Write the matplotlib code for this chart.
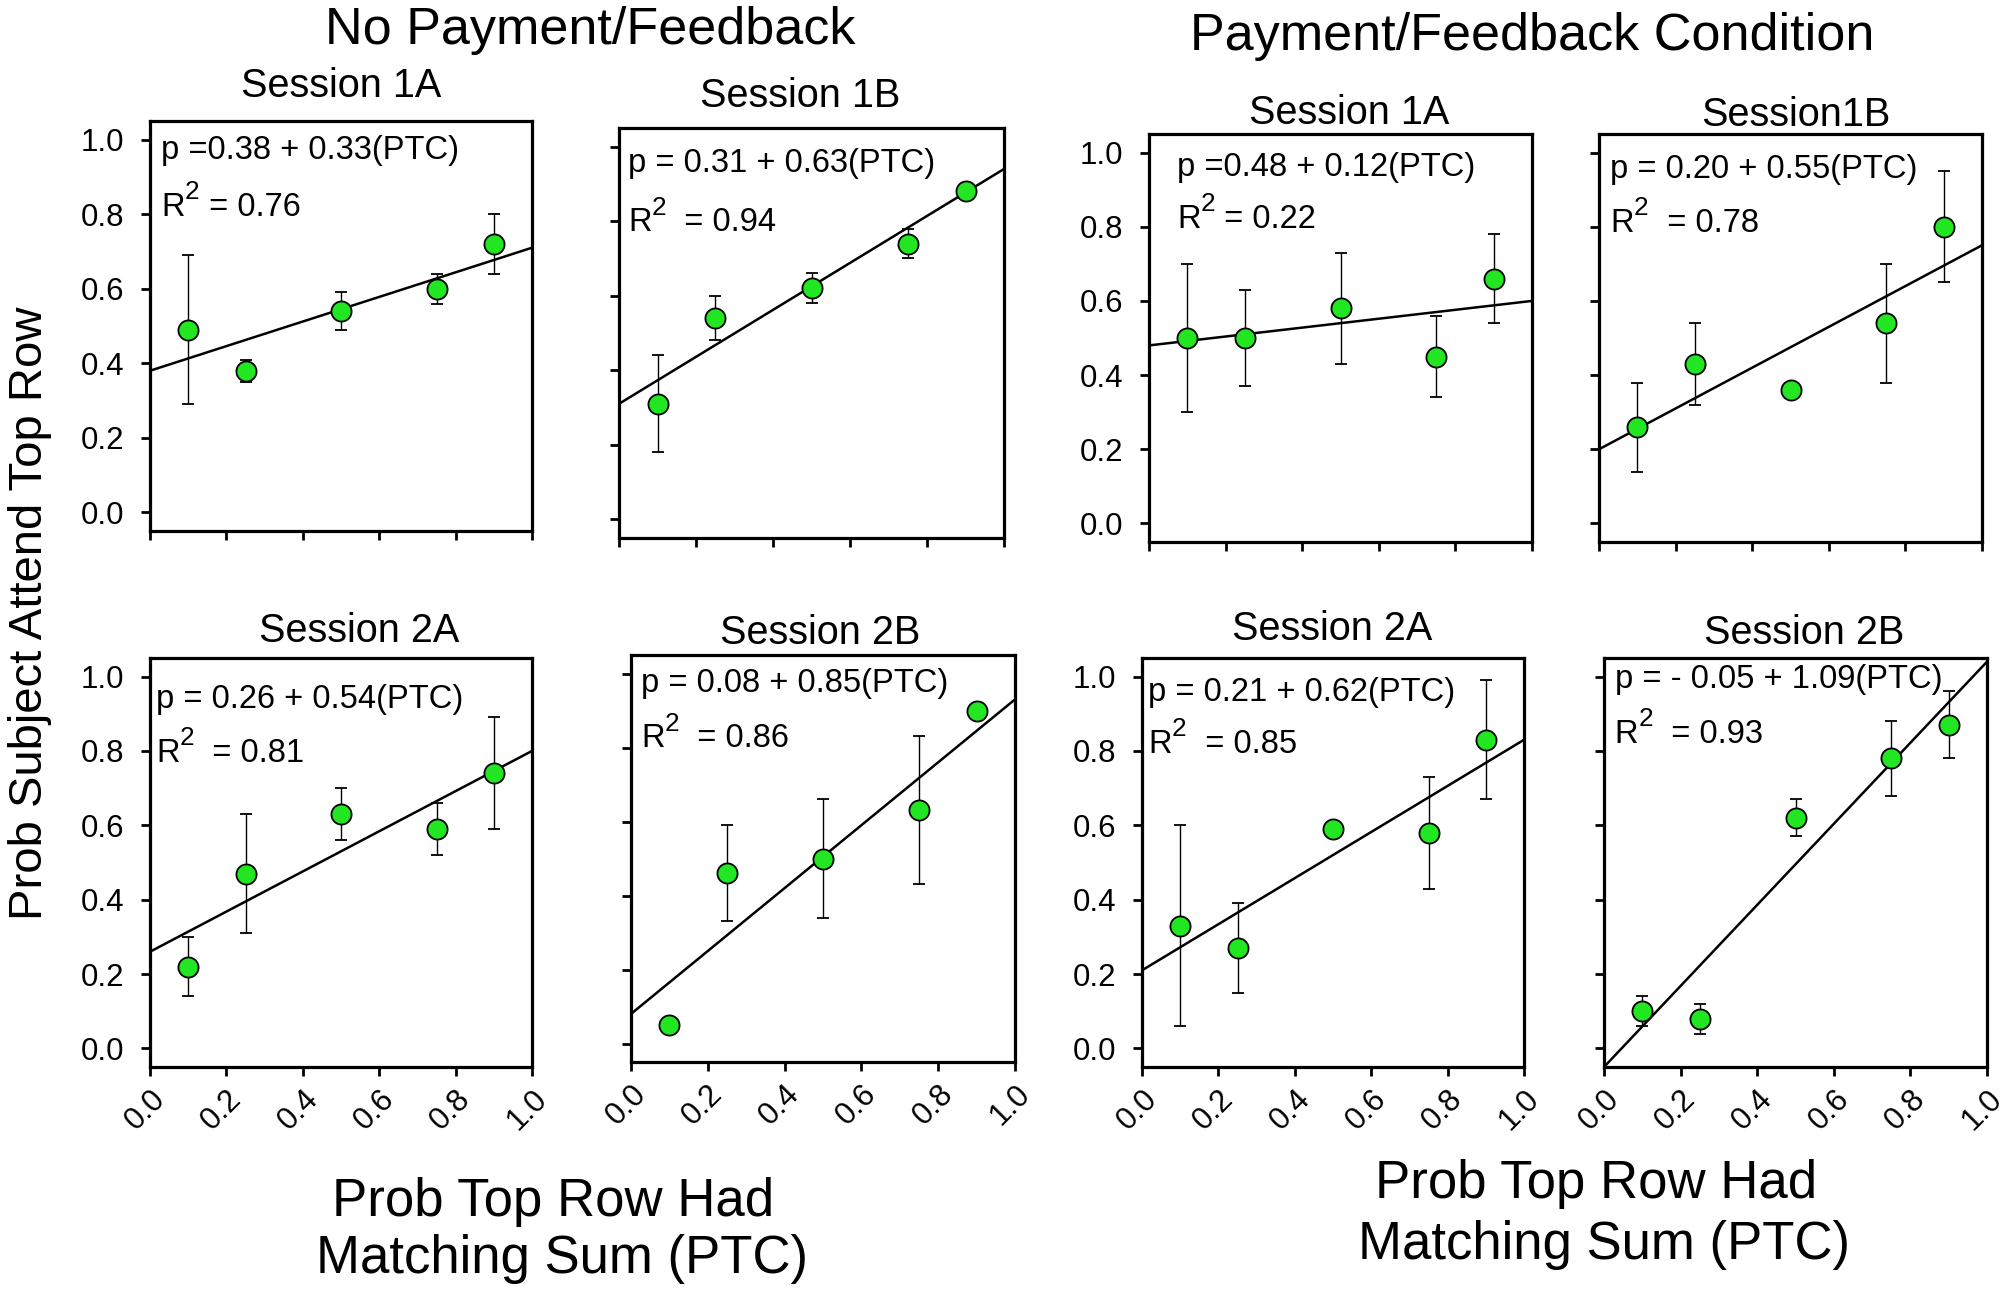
import matplotlib
matplotlib.use("Agg")
import matplotlib.pyplot as plt
from matplotlib.ticker import FormatStrFormatter

plt.rcParams["font.family"] = ["Liberation Sans", "DejaVu Sans"]

W, H = 2000, 1295

PTC = [0.10, 0.25, 0.50, 0.75, 0.90]
TICKS = [0.0, 0.2, 0.4, 0.6, 0.8, 1.0]

# no payment / feedback
NOFB_1A = [0.49, 0.38, 0.54, 0.60, 0.72]
NOFB_1A_ERR = [0.20, 0.03, 0.05, 0.04, 0.08]
NOFB_1B = [0.31, 0.54, 0.62, 0.74, 0.88]
NOFB_1B_ERR = [0.13, 0.06, 0.04, 0.04, 0.0]
NOFB_2A = [0.22, 0.47, 0.63, 0.59, 0.74]
NOFB_2A_ERR = [0.08, 0.16, 0.07, 0.07, 0.15]
NOFB_2B = [0.05, 0.46, 0.50, 0.63, 0.90]
NOFB_2B_ERR = [0.0, 0.13, 0.16, 0.20, 0.0]

# payment / feedback
FB_1A = [0.50, 0.50, 0.58, 0.45, 0.66]
FB_1A_ERR = [0.20, 0.13, 0.15, 0.11, 0.12]
FB_1B = [0.26, 0.43, 0.36, 0.54, 0.80]
FB_1B_ERR = [0.12, 0.11, 0.0, 0.16, 0.15]
FB_2A = [0.33, 0.27, 0.59, 0.58, 0.83]
FB_2A_ERR = [0.27, 0.12, 0.0, 0.15, 0.16]
FB_2B = [0.10, 0.08, 0.62, 0.78, 0.87]
FB_2B_ERR = [0.04, 0.04, 0.05, 0.10, 0.09]

# fitted lines (intercept, slope) and R^2
FITS = {
    "nofb_1a": (0.38, 0.33, 0.76),
    "nofb_1b": (0.31, 0.63, 0.94),
    "nofb_2a": (0.26, 0.54, 0.81),
    "nofb_2b": (0.08, 0.85, 0.86),
    "fb_1a": (0.48, 0.12, 0.22),
    "fb_1b": (0.20, 0.55, 0.78),
    "fb_2a": (0.21, 0.62, 0.85),
    "fb_2b": (-0.05, 1.09, 0.93),
}

EQ_TEXT = {
    "nofb_1a": "p =0.38 + 0.33(PTC)",
    "nofb_1b": "p = 0.31 + 0.63(PTC)",
    "nofb_2a": "p = 0.26 + 0.54(PTC)",
    "nofb_2b": "p = 0.08 + 0.85(PTC)",
    "fb_1a": "p =0.48 + 0.12(PTC)",
    "fb_1b": "p = 0.20 + 0.55(PTC)",
    "fb_2a": "p = 0.21 + 0.62(PTC)",
    "fb_2b": "p = - 0.05 + 1.09(PTC)",
}
R2_GAP = {"nofb_1a": " ", "fb_1a": " "}

GREEN = "#22e622"
EQ_SIZE = 23.5

# key, values, errors, title, box in pixels (left, top, right, bottom),
# equation position (axes fraction x, y of p-line, y of R2-line), title pos
PANELS = [
    ("nofb_1a", NOFB_1A, NOFB_1A_ERR, "Session 1A", (150, 121, 532, 531), (0.03, 0.908, 0.769), (341, 97)),
    ("nofb_1b", NOFB_1B, NOFB_1B_ERR, "Session 1B", (619, 128, 1004, 538), (0.024, 0.893, 0.748), (800, 107)),
    ("nofb_2a", NOFB_2A, NOFB_2A_ERR, "Session 2A", (150, 658, 532, 1067), (0.016, 0.877, 0.746), (359, 642)),
    ("nofb_2b", NOFB_2B, NOFB_2B_ERR, "Session 2B", (631, 655, 1015, 1062), (0.026, 0.91, 0.773), (820, 644)),
    ("fb_1a", FB_1A, FB_1A_ERR, "Session 1A", (1149, 134, 1532, 542), (0.074, 0.897, 0.77), (1349, 124)),
    ("fb_1b", FB_1B, FB_1B_ERR, "Session1B", (1599, 134, 1982, 542), (0.03, 0.892, 0.76), (1796, 126)),
    ("fb_2a", FB_2A, FB_2A_ERR, "Session 2A", (1142, 658, 1524, 1067), (0.017, 0.896, 0.768), (1332, 640)),
    ("fb_2b", FB_2B, FB_2B_ERR, "Session 2B", (1604, 658, 1987, 1067), (0.028, 0.927, 0.792), (1804, 644)),
]
SHOW_YLABELS = {"nofb_1a", "nofb_2a", "fb_1a", "fb_2a"}
SHOW_XLABELS = {"nofb_2a", "nofb_2b", "fb_2a", "fb_2b"}


def fx(px):
    return px / W


def fy(py):
    return 1 - py / H


def draw_panel(fig, key, values, errors, title, box, eqpos, titlepos):
    left, top, right, bottom = box
    ax = fig.add_axes([fx(left), fy(bottom), (right - left) / W, (bottom - top) / H])
    ax.set_xlim(0, 1)
    ax.set_ylim(-0.05, 1.05)

    b0, b1, r2 = FITS[key]
    ax.plot([0, 1], [b0, b0 + b1], color="black", lw=1.8, zorder=2)
    ax.errorbar(PTC, values, yerr=errors, fmt="none", ecolor="black",
                elinewidth=1.0, capsize=4.5, capthick=1.3, zorder=3)
    ax.plot(PTC, values, "o", ms=14.5, mfc=GREEN, mec="black", mew=1.3, zorder=4)

    ax.set_xticks(TICKS)
    ax.set_yticks(TICKS)
    ax.xaxis.set_major_formatter(FormatStrFormatter("%.1f"))
    ax.yaxis.set_major_formatter(FormatStrFormatter("%.1f"))
    ax.tick_params(direction="out", length=6.5, width=2.0, labelsize=22.5, pad=12,
                   top=False, right=False)
    ax.tick_params(axis="x", pad=6)
    if key not in SHOW_YLABELS:
        ax.tick_params(labelleft=False)
    if key in SHOW_XLABELS:
        for lab in ax.get_xticklabels():
            lab.set_rotation(45)
            lab.set_ha("right")
            lab.set_va("top")
            lab.set_rotation_mode("anchor")
    else:
        ax.tick_params(labelbottom=False)
    for sp in ax.spines.values():
        sp.set_linewidth(2.3)

    ex, ey1, ey2 = eqpos
    ax.text(ex, ey1, EQ_TEXT[key], transform=ax.transAxes, fontsize=EQ_SIZE,
            va="baseline", ha="left")
    # R^2 line: R, raised 2, then the value
    r_txt = ax.text(ex, ey2, "R", transform=ax.transAxes, fontsize=EQ_SIZE,
                    va="baseline", ha="left")
    sup = ax.annotate("2", xy=(1.0, 0.6), xycoords=r_txt, fontsize=EQ_SIZE * 0.8,
                      ha="left", va="bottom")
    gap = R2_GAP.get(key, "  ")
    ax.annotate(gap + f"= {r2:.2f}", xy=(1.0, 0.0), xycoords=(sup, r_txt),
                fontsize=EQ_SIZE, ha="left", va="bottom")

    fig.text(fx(titlepos[0]), fy(titlepos[1]), title, fontsize=28.5,
             ha="center", va="baseline")
    return ax


fig = plt.figure(figsize=(W / 100, H / 100), dpi=100)

for panel in PANELS:
    draw_panel(fig, *panel)

fig.text(fx(590), fy(44), "No Payment/Feedback", fontsize=37.5, ha="center", va="baseline")
fig.text(fx(1532), fy(50), "Payment/Feedback Condition", fontsize=37.5, ha="center", va="baseline")

fig.text(fx(553), fy(1216), "Prob Top Row Had", fontsize=38, ha="center", va="baseline")
fig.text(fx(562), fy(1273), "Matching Sum (PTC)", fontsize=38, ha="center", va="baseline")
fig.text(fx(1596), fy(1198), "Prob Top Row Had", fontsize=38, ha="center", va="baseline")
fig.text(fx(1604), fy(1259), "Matching Sum (PTC)", fontsize=38, ha="center", va="baseline")

fig.text(fx(30), fy(613), "Prob Subject Attend Top Row", fontsize=34, rotation=90,
         ha="center", va="center")

fig.savefig("out.png", dpi=100)
